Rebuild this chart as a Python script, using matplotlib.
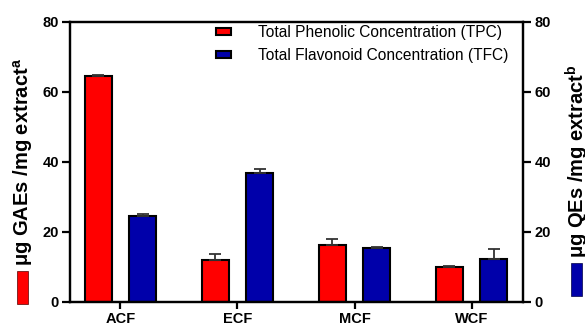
import matplotlib.pyplot as plt
import numpy as np
from matplotlib.patches import Rectangle

plt.rcParams["font.family"] = ["Liberation Sans", "DejaVu Sans"]

samples = ["ACF", "ECF", "MCF", "WCF"]
tpc = [64.6, 11.9, 16.3, 10.0]
tpc_err = [0.3, 1.7, 1.7, 0.3]
tfc = [24.7, 36.8, 15.3, 12.3]
tfc_err = [0.4, 1.1, 0.3, 2.8]

red = "#FF0000"
blue = "#0000AA"

fig = plt.figure(figsize=(5.85, 3.33), dpi=100)
ax = fig.add_axes([0.1197, 0.0931, 0.7746, 0.8409])

x = np.arange(len(samples))
w = 0.23
off = 0.19
err_kw = dict(ecolor="#333333", elinewidth=1.3, capsize=4, capthick=1.3)
ax.bar(x - off, tpc, w, color=red, edgecolor="black", linewidth=1.5,
       yerr=[np.zeros(4), tpc_err], error_kw=err_kw,
       label="Total Phenolic Concentration (TPC)")
ax.bar(x + off, tfc, w, color=blue, edgecolor="black", linewidth=1.5,
       yerr=[np.zeros(4), tfc_err], error_kw=err_kw,
       label="Total Flavonoid Concentration (TFC)")

ax.set_xlim(-0.43, 3.44)
ax.set_ylim(0, 80)
ax.set_yticks([0, 20, 40, 60, 80])
ax.set_xticks(x)
ax.set_xticklabels(samples, fontweight="bold", fontsize=10.5)
for lab in ax.get_yticklabels():
    lab.set_fontweight("bold")
    lab.set_fontsize(10.5)
for s in ax.spines.values():
    s.set_linewidth(1.6)
ax.tick_params(axis="y", length=6, width=1.6, pad=2)
ax.tick_params(axis="x", length=5, width=1.6, pad=2)

ax2 = ax.twinx()
ax2.set_ylim(0, 80)
ax2.set_yticks([0, 20, 40, 60, 80])
for lab in ax2.get_yticklabels():
    lab.set_fontweight("bold")
    lab.set_fontsize(10.5)
ax2.tick_params(axis="y", length=6, width=1.6, pad=2)
for s in ax2.spines.values():
    s.set_linewidth(1.6)

ax.legend(loc="upper right", bbox_to_anchor=(0.967, 0.99), frameon=False,
          fontsize=11.2, handlelength=0.96, handleheight=0.3,
          labelspacing=0.55, handletextpad=1.75, borderpad=0, borderaxespad=0)

fig.text(23 / 585, 1 - 266 / 333, r"μg GAEs /mg extract$^{\mathregular{a}}$",
         rotation=90, ha="center", va="bottom", fontsize=14.5, fontweight="bold")
fig.text(577 / 585, 1 - 258 / 333, r"μg QEs /mg extract$^{\mathregular{b}}$",
         rotation=90, ha="center", va="bottom", fontsize=14.5, fontweight="bold")
fig.patches.append(Rectangle((17 / 585, 1 - 304 / 333), 11 / 585, 33 / 333,
                             transform=fig.transFigure, facecolor=red,
                             edgecolor="#550000", linewidth=0.5))
fig.patches.append(Rectangle((571 / 585, 1 - 296 / 333), 11 / 585, 33 / 333,
                             transform=fig.transFigure, facecolor=blue,
                             edgecolor="#000044", linewidth=0.5))

fig.savefig("out.png", dpi=100)
